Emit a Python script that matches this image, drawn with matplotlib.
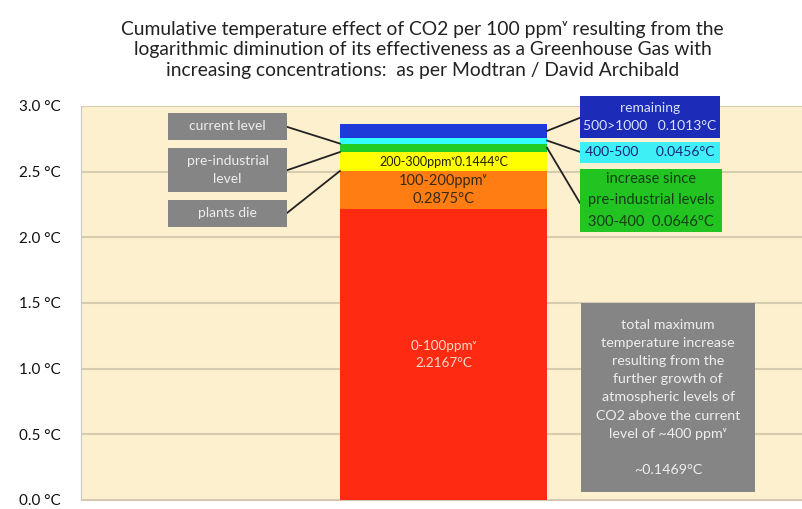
import matplotlib
matplotlib.use("Agg")
import matplotlib.pyplot as plt
from matplotlib.patches import Rectangle
from matplotlib.transforms import blended_transform_factory

# data: CO2 concentration bands and their temperature increments (°C)
bands = ['0-100', '100-200', '200-300', '300-400', '400-500', '500>1000']
increments = [2.2167, 0.2875, 0.1444, 0.0646, 0.0456, 0.1013]
band_colors = ['#ff2a12', '#ff7d12', '#ffff00', '#22cc22', '#33ffff', '#1e3ad8']
yticks = [0.0, 0.5, 1.0, 1.5, 2.0, 2.5, 3.0]
ytick_labels = ['0.0 °C', '0.5 °C', '1.0 °C', '1.5 °C', '2.0 °C', '2.5 °C', '3.0 °C']

title = ("Cumulative temperature effect of CO2 per 100 ppm\u1d5b resulting from the\n"
         "logarithmic diminution of its effectiveness as a Greenhouse Gas with\n"
         "increasing concentrations:  as per Modtran / David Archibald")

plt.rcParams['font.family'] = ['Lato', 'DejaVu Sans']

fig = plt.figure(figsize=(8.03, 5.09), dpi=100)
ax = fig.add_axes([0.101, 0.0177, 0.899, 0.7743])
ax.set_facecolor('#fdf0cf')
ax.set_xlim(0, 1)
ax.set_ylim(0, 3.0)
ax.set_yticks(yticks)
ax.set_yticklabels(ytick_labels, fontsize=11, color='#111111')
ax.tick_params(axis='y', length=0, pad=15)
ax.set_xticks([])
for s in ['top', 'right']:
    ax.spines[s].set_visible(False)
ax.spines['left'].set_color('#c8c8c8')
ax.spines['bottom'].set_color('#d0c8b0')
ax.yaxis.grid(True, color='#d6ccb0', linewidth=1.5)
ax.set_axisbelow(True)

# stacked bar
bottoms = []
b = 0.0
for inc in increments:
    bottoms.append(b)
    b += inc
bar_x, bar_w = 0.502, 0.287
ax.bar([bar_x] * len(increments), increments, width=bar_w, bottom=bottoms,
       color=band_colors, zorder=3)
tops = [bt + inc for bt, inc in zip(bottoms, increments)]
bar_l, bar_r = bar_x - bar_w / 2, bar_x + bar_w / 2

ax.text(bar_x, 1.105, '0-100ppm\u1d5b\n2.2167°C', ha='center', va='center',
        fontsize=9.7, color='#f8d8c8', zorder=4, linespacing=1.5)
ax.text(bar_x, bottoms[1] + increments[1] / 2, '100-200ppm\u1d5b\n0.2875°C',
        ha='center', va='center', fontsize=10.5, color='#3a2a10', zorder=4,
        linespacing=1.35)
ax.text(bar_x, bottoms[2] + increments[2] / 2, '200-300ppm\u1d5b0.1444°C',
        ha='center', va='center', fontsize=9, color='#222200', zorder=4)

trans = blended_transform_factory(ax.transAxes, ax.transData)


def box(x0, x1, y0, y1, fc, text, tc, fs=9.5, ls=1.25):
    ax.add_patch(Rectangle((x0, y0), x1 - x0, y1 - y0, transform=trans,
                           facecolor=fc, edgecolor='none', zorder=5, clip_on=False))
    ax.text((x0 + x1) / 2, (y0 + y1) / 2, text, transform=trans, ha='center',
            va='center', fontsize=fs, color=tc, zorder=6, linespacing=ls)


def link(x0, y0, x1, y1):
    ax.plot([x0, x1], [y0, y1], transform=trans, color='#222222', lw=1.3,
            zorder=4, clip_on=False)


# left annotation boxes
lx0, lx1 = 0.1205, 0.2853
box(lx0, lx1, 2.741, 2.947, '#858585', 'current level', '#eeeeee', fs=10)
box(lx0, lx1, 2.345, 2.680, '#858585', 'pre-industrial\nlevel', '#eeeeee', fs=10, ls=1.55)
box(lx0, lx1, 2.079, 2.284, '#858585', 'plants die', '#eeeeee', fs=10)
link(lx1, 2.84, bar_l, tops[3])
link(lx1, 2.51, bar_l, tops[2])
link(lx1, 2.185, bar_l, tops[1])

# right annotation boxes
rx0, rx1 = 0.691, 0.885
box(rx0, rx1, 2.756, 3.076, '#1c2bb8', 'remaining\n500>1000   0.1013°C', '#d8e0ff',
    fs=10, ls=1.6)
box(rx0, rx1, 2.566, 2.726, '#3ef0f5', '400-500     0.0456°C', '#1a2580', fs=10)
box(rx0, rx1 + 0.003, 2.041, 2.520, '#22c422',
    'increase since\npre-industrial levels\n300-400  0.0646°C', '#153d15',
    fs=10.5, ls=1.65)
link(bar_r, bottoms[5] + increments[5] / 2, rx0, 2.909)
link(bar_r, bottoms[4] + increments[4] / 2, rx0, 2.650)
link(bar_r, bottoms[3] + increments[3] / 2, rx0, 2.261)

# summary box
box(0.6925, 0.9335, 0.061, 1.500, '#858585',
    'total maximum\ntemperature increase\nresulting from the\nfurther growth of\n'
    'atmospheric levels of\nCO2 above the current\nlevel of ~400 ppm\u1d5b\n\n~0.1469°C',
    '#eeeeee', fs=10.3, ls=1.62)

fig.text(0.526, 0.902, title, ha='center', va='center', fontsize=13.9,
         color='#222222', linespacing=1.27)

fig.savefig('out.png', dpi=100)
